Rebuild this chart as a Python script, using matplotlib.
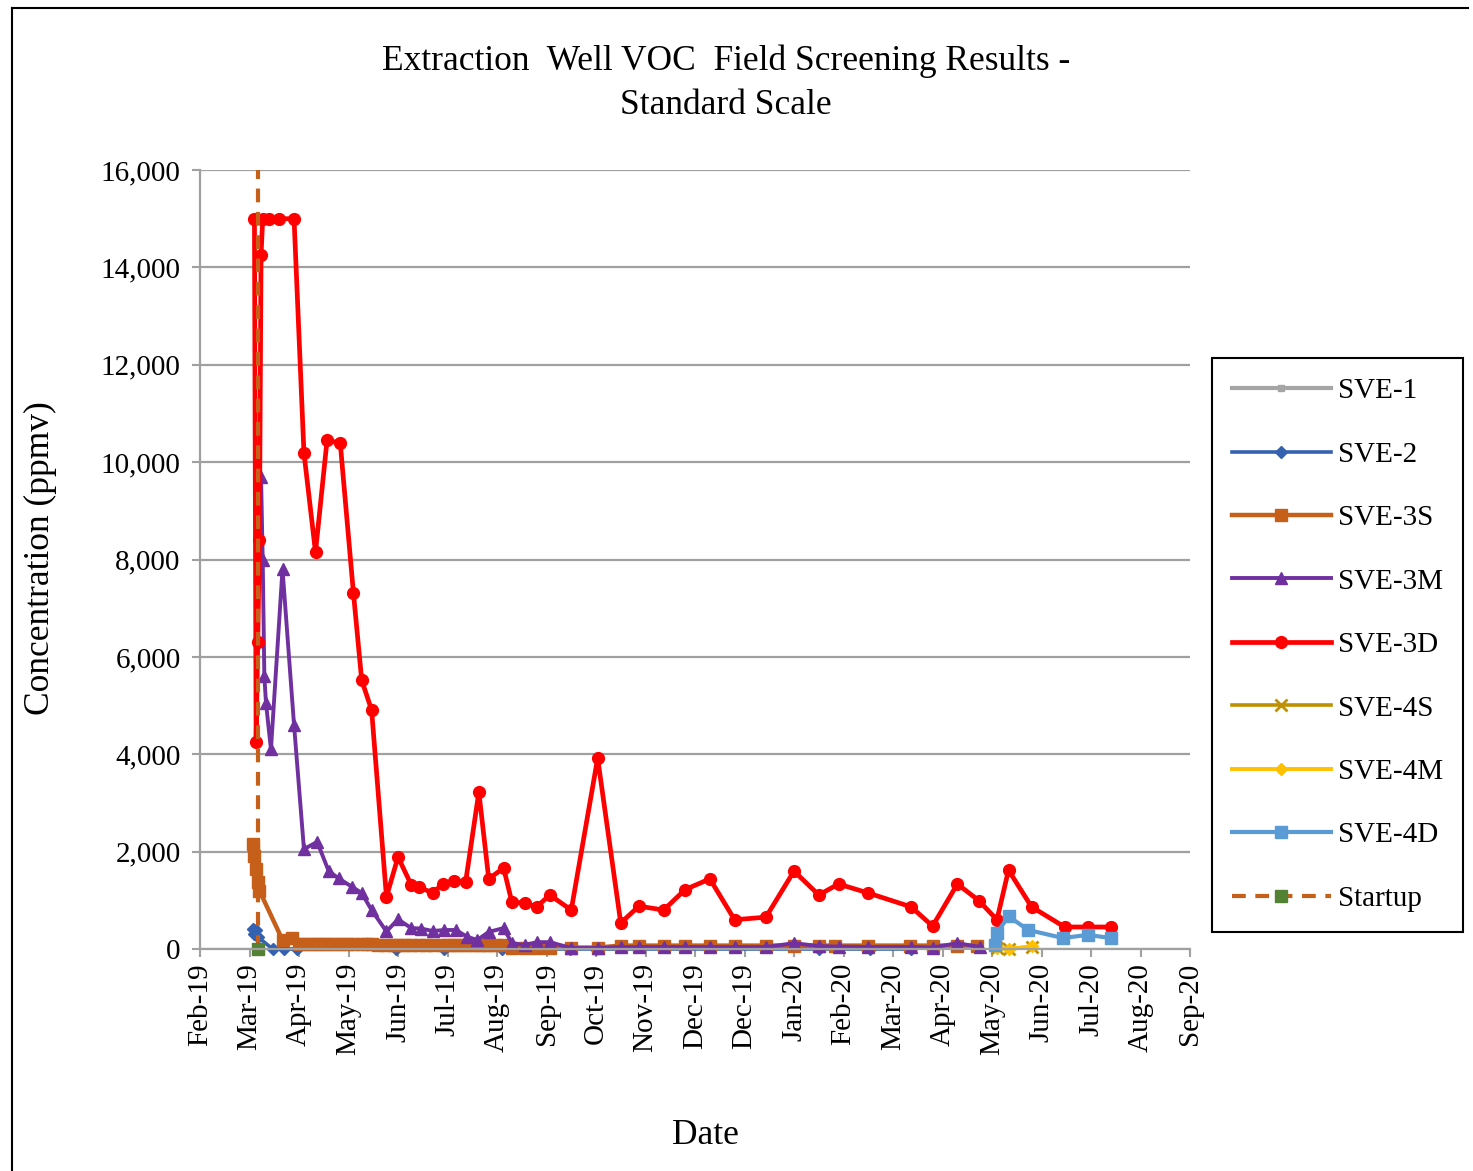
import matplotlib
matplotlib.use('Agg')
import matplotlib.pyplot as plt
import pandas as pd
from matplotlib.lines import Line2D

plt.rcParams['font.family'] = ['Liberation Serif', 'DejaVu Serif']

# ---------------- data ----------------
sve1_dates = []
sve1_vals = []

sve2_dates = ['2019-03-08', '2019-03-09', '2019-03-10', '2019-03-11', '2019-03-20',
              '2019-03-27', '2019-04-04', '2019-06-03', '2019-07-02', '2019-08-06',
              '2019-09-16', '2019-10-02', '2020-02-14', '2020-03-16', '2020-04-10']
sve2_vals = [420, 300, 380, 250, 0, 0, 0, 0, 0, 0, 0, 0, 0, 0, 0]

sve3s_dates = ['2019-03-08', '2019-03-09', '2019-03-10', '2019-03-11', '2019-03-12',
               '2019-03-26', '2019-04-01', '2019-04-05', '2019-04-08', '2019-04-12',
               '2019-04-15', '2019-04-19', '2019-04-22', '2019-04-26', '2019-04-30',
               '2019-05-04', '2019-05-08', '2019-05-13', '2019-05-16', '2019-05-19',
               '2019-05-23', '2019-05-28', '2019-06-01', '2019-06-04', '2019-06-08',
               '2019-06-12', '2019-06-17', '2019-06-21', '2019-06-25', '2019-07-01',
               '2019-07-04', '2019-07-08', '2019-07-11', '2019-07-15', '2019-07-19',
               '2019-07-23', '2019-07-26', '2019-07-29', '2019-08-02', '2019-08-07',
               '2019-08-12', '2019-08-20', '2019-08-27', '2019-09-04', '2019-09-17',
               '2019-10-03', '2019-10-17', '2019-10-28', '2019-11-12', '2019-11-25',
               '2019-12-10', '2019-12-25', '2020-01-13', '2020-01-30', '2020-02-14',
               '2020-02-24', '2020-03-15', '2020-04-09', '2020-04-23', '2020-05-08',
               '2020-05-20']
sve3s_vals = [2150, 1900, 1650, 1380, 1200,
              185, 230, 110, 100, 100,
              100, 100, 100, 100, 100,
              100, 100, 100, 100, 100,
              90, 80, 80, 80, 80,
              80, 80, 80, 80, 80,
              80, 80, 80, 80, 80,
              80, 80, 80, 80, 80,
              30, 30, 30, 30, 30,
              30, 70, 70, 70, 70,
              70, 70, 70, 70, 70,
              70, 70, 70, 70, 70,
              70]

sve3m_dates = ['2019-03-13', '2019-03-14', '2019-03-15', '2019-03-16', '2019-03-19',
               '2019-03-26', '2019-04-02', '2019-04-08', '2019-04-16', '2019-04-23',
               '2019-04-29', '2019-05-07', '2019-05-13', '2019-05-19', '2019-05-28',
               '2019-06-04', '2019-06-12', '2019-06-18', '2019-06-25', '2019-07-02',
               '2019-07-09', '2019-07-16', '2019-07-22', '2019-07-29', '2019-08-07',
               '2019-08-12', '2019-08-20', '2019-08-27', '2019-09-04', '2019-09-17',
               '2019-10-03', '2019-10-17', '2019-10-28', '2019-11-12', '2019-11-25',
               '2019-12-10', '2019-12-25', '2020-01-13', '2020-01-30', '2020-02-14',
               '2020-02-26', '2020-03-15', '2020-04-10', '2020-04-23', '2020-05-08',
               '2020-05-22']
sve3m_vals = [9700, 8000, 5600, 5050, 4100,
              7800, 4600, 2050, 2200, 1600,
              1450, 1280, 1150, 800, 360,
              610, 430, 420, 370, 390,
              390, 250, 185, 350, 430,
              120, 80, 140, 140, 20,
              20, 40, 40, 40, 40,
              40, 40, 40, 120, 60,
              50, 40, 40, 30, 120,
              40]

sve3d_dates = ['2019-03-09', '2019-03-10', '2019-03-11', '2019-03-12', '2019-03-13',
               '2019-03-14', '2019-03-18', '2019-03-24', '2019-04-02', '2019-04-08',
               '2019-04-15', '2019-04-22', '2019-04-30', '2019-05-08', '2019-05-13',
               '2019-05-19', '2019-05-28', '2019-06-04', '2019-06-12', '2019-06-17',
               '2019-06-25', '2019-07-01', '2019-07-08', '2019-07-15', '2019-07-23',
               '2019-07-29', '2019-08-07', '2019-08-12', '2019-08-20', '2019-08-27',
               '2019-09-04', '2019-09-17', '2019-10-03', '2019-10-17', '2019-10-28',
               '2019-11-12', '2019-11-25', '2019-12-10', '2019-12-25', '2020-01-13',
               '2020-01-30', '2020-02-14', '2020-02-26', '2020-03-15', '2020-04-10',
               '2020-04-23', '2020-05-08', '2020-05-21', '2020-06-01', '2020-06-08',
               '2020-06-22', '2020-07-12', '2020-07-26', '2020-08-09']
sve3d_vals = [15000, 4250, 6300, 8400, 14250,
              15000, 15000, 15000, 15000, 10190,
              8150, 10450, 10390, 7310, 5520,
              4910, 1070, 1890, 1320, 1270,
              1150, 1335, 1400, 1380, 3225,
              1440, 1665, 965, 945, 865,
              1110, 800, 3920, 535, 880,
              800, 1220, 1440, 600, 655,
              1600, 1110, 1335, 1150, 865,
              470, 1335, 995, 600, 1620,
              865, 452, 452, 452]

sve4s_dates = ['2020-06-01', '2020-06-08', '2020-06-22']
sve4s_vals = [20, 0, 40]

sve4m_dates = ['2020-05-31', '2020-06-01', '2020-06-08', '2020-06-22']
sve4m_vals = [100, 30, 0, 60]

sve4d_dates = ['2020-05-31', '2020-06-01', '2020-06-08', '2020-06-20', '2020-07-11',
               '2020-07-26', '2020-08-09']
sve4d_vals = [80, 330, 670, 390, 225, 290, 225]

startup_dates = ['2019-03-11', '2019-03-11']
startup_vals = [0, 16000]

x_tick_dates = ['2019-02-04', '2019-03-06', '2019-04-05', '2019-05-05', '2019-06-04',
                '2019-07-04', '2019-08-03', '2019-09-02', '2019-10-02', '2019-11-01',
                '2019-12-01', '2019-12-31', '2020-01-30', '2020-02-29', '2020-03-30',
                '2020-04-29', '2020-05-29', '2020-06-28', '2020-07-28', '2020-08-27',
                '2020-09-26']
x_tick_labels = ['Feb-19', 'Mar-19', 'Apr-19', 'May-19', 'Jun-19', 'Jul-19', 'Aug-19',
                 'Sep-19', 'Oct-19', 'Nov-19', 'Dec-19', 'Dec-19', 'Jan-20', 'Feb-20',
                 'Mar-20', 'Apr-20', 'May-20', 'Jun-20', 'Jul-20', 'Aug-20', 'Sep-20']
y_ticks = [0, 2000, 4000, 6000, 8000, 10000, 12000, 14000, 16000]
y_tick_labels = ['0', '2,000', '4,000', '6,000', '8,000', '10,000', '12,000',
                 '14,000', '16,000']

# ---------------- figure ----------------
W, H = 1473, 1171
fig = plt.figure(figsize=(W / 100, H / 100), dpi=100)
fig.patch.set_facecolor('white')

ax = fig.add_axes([200 / W, 1 - 949 / H, 990 / W, 779 / H])

def d(lst):
    return pd.to_datetime(lst)

grid_c = '#A0A0A0'

h1, = ax.plot(d(sve1_dates), sve1_vals, color='#A5A5A5', lw=3.0, marker='s',
              ms=4, label='SVE-1')
h2, = ax.plot(d(sve2_dates), sve2_vals, color='#3461B0', lw=2.6, marker='D',
              ms=6, label='SVE-2', clip_on=False)
h3, = ax.plot(d(sve3s_dates), sve3s_vals, color='#C65F1A', lw=3.2, marker='s',
              ms=9, label='SVE-3S', clip_on=False)
h4, = ax.plot(d(sve3m_dates), sve3m_vals, color='#7030A0', lw=2.8, marker='^',
              ms=8, label='SVE-3M', clip_on=False)
h5, = ax.plot(d(sve3d_dates), sve3d_vals, color='#FF0000', lw=3.4, marker='o',
              ms=8.5, label='SVE-3D', clip_on=False)
h6, = ax.plot(d(sve4s_dates), sve4s_vals, color='#BF9000', lw=2.6, marker='x',
              ms=8, mew=2, label='SVE-4S', clip_on=False)
h7, = ax.plot(d(sve4m_dates), sve4m_vals, color='#FFC000', lw=2.8, marker='D',
              ms=6, label='SVE-4M', clip_on=False)
h8, = ax.plot(d(sve4d_dates), sve4d_vals, color='#5B9BD5', lw=3.0, marker='s',
              ms=8, label='SVE-4D', clip_on=False)
h9, = ax.plot(d(startup_dates), startup_vals, color='#C65F1A', lw=3.0,
              ls=(0, (3.3, 2.3)), marker='s', ms=8, mfc='#548235', mec='#548235',
              markevery=[0], label='Startup', clip_on=False)

ax.set_xlim(pd.Timestamp('2019-02-04'), pd.Timestamp('2020-09-26'))
ax.set_ylim(0, 16000)
ax.set_xticks(d(x_tick_dates))
ax.set_xticklabels(x_tick_labels, rotation=90)
ax.set_yticks(y_ticks)
ax.set_yticklabels(y_tick_labels)

ax.yaxis.grid(True, color=grid_c, lw=1.6)
ax.set_axisbelow(True)
for s in ['top', 'right']:
    ax.spines[s].set_visible(False)
for s in ['left', 'bottom']:
    ax.spines[s].set_color(grid_c)
    ax.spines[s].set_linewidth(1.6)

ax.tick_params(axis='x', direction='out', length=6, width=1.5, color=grid_c,
               labelsize=21, pad=4)
ax.tick_params(axis='y', direction='out', length=6, width=1.5, color=grid_c,
               labelsize=21, pad=8)

# titles
fig.text(726 / W, 1 - 83 / H,
         'Extraction  Well VOC  Field Screening Results -\nStandard Scale',
         ha='center', va='center', fontsize=25.5, linespacing=1.42)
fig.text(40 / W, 1 - 558 / H, 'Concentration (ppmv)', rotation=90,
         ha='center', va='center', fontsize=25.5)
fig.text(705 / W, 1 - 1136 / H, 'Date', ha='center', va='center', fontsize=25.5)

# legend
leg = fig.legend(handles=[h1, h2, h3, h4, h5, h6, h7, h8, h9],
                 loc='upper left', bbox_to_anchor=(1212 / W, 1 - 358 / H),
                 bbox_transform=fig.transFigure, frameon=True, fancybox=False,
                 edgecolor='black', fontsize=21, handlelength=3.4,
                 labelspacing=1.27, borderpad=0.68, handletextpad=0.25,
                 borderaxespad=0, framealpha=1)
leg.get_frame().set_linewidth(1.5)

# outer chart border (top and left)
fig.add_artist(Line2D([12 / W, 12 / W], [0, 1 - 8 / H], transform=fig.transFigure,
                      color='black', lw=1.5))
fig.add_artist(Line2D([12 / W, 1468 / W], [1 - 8 / H, 1 - 8 / H],
                      transform=fig.transFigure, color='black', lw=1.5))

fig.savefig('out.png', dpi=100)
